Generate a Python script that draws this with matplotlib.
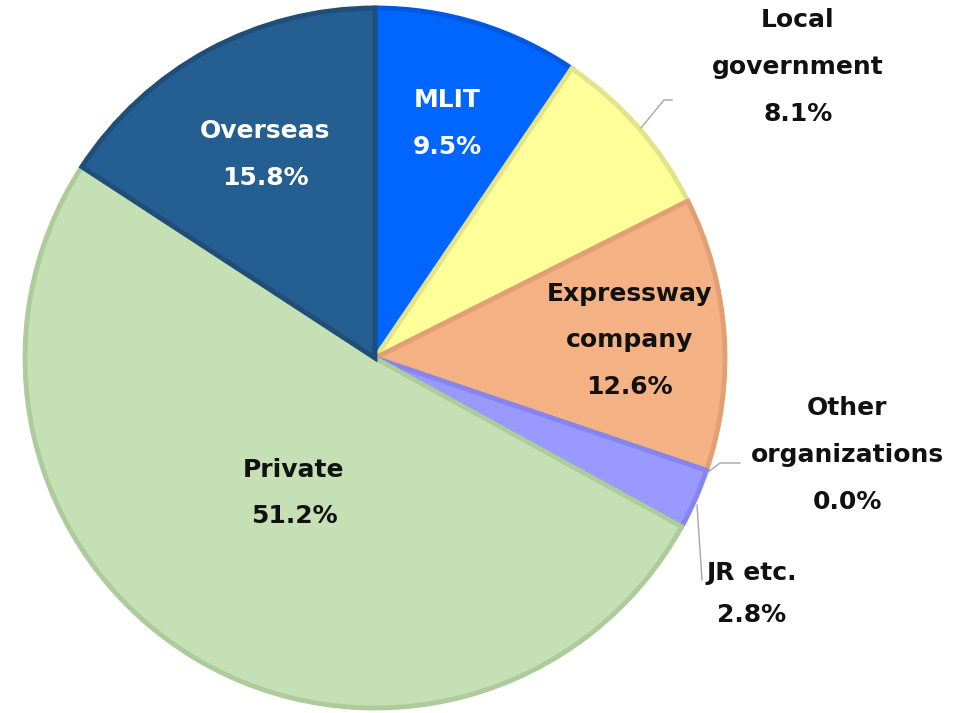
import numpy as np
import matplotlib.pyplot as plt

# 割合データ (%)
labels = ["MLIT", "Local\ngovernment", "Expressway\ncompany", "Other\norganizations",
          "JR etc.", "Private", "Overseas"]
shares = [9.5, 8.1, 12.6, 0.0, 2.8, 51.2, 15.8]

face_colors = ["#0066FF", "#FFFF99", "#F4B183", "#9999FF", "#9999FF", "#C5E0B4", "#255E91"]
edge_colors = ["#0058E0", "#E3E38A", "#E0A073", "#8585F0", "#8585F0", "#ADCB9B", "#1F4E79"]
text_colors = ["white", "#111111", "#111111", "#111111", "#111111", "#111111", "white"]

H = 713
cx, cy, R = 375, H - 358, 350

fig = plt.figure(figsize=(9.64, 7.13), dpi=100)
ax = fig.add_axes([0, 0, 1, 1])

wedges, _ = ax.pie(shares, center=(cx, cy), radius=R, startangle=90,
                   counterclock=False, colors=face_colors,
                   wedgeprops=dict(linewidth=3.5))
for w, ec, v in zip(wedges, edge_colors, shares):
    if v == 0:
        w.set_linewidth(0)
    else:
        w.set_edgecolor(ec)

ax.set_xlim(0, 964)
ax.set_ylim(0, H)
ax.set_aspect("equal")
ax.axis("off")

font = dict(fontsize=18, fontweight="bold", family="DejaVu Sans",
            ha="center", va="center", linespacing=2.2)

# 内側ラベル: 扇形の中央角から配置
inside = {0: 0.70, 2: 0.73, 5: 0.45, 6: 0.66}
for i, f in inside.items():
    w = wedges[i]
    mid = np.deg2rad((w.theta1 + w.theta2) / 2)
    x = cx + f * R * np.cos(mid)
    y = cy + f * R * np.sin(mid)
    ax.text(x, y, f"{labels[i]}\n{shares[i]:.1f}%", color=text_colors[i], **font)

# 外側ラベル (引出線付き)
outside = {
    1: ((798, 67), [(641, 128), (664, 100), (672, 100)]),
    3: ((847, 455), [(707, 473), (720, 463), (740, 463)]),
    4: ((752, 594), [(697, 505), (702, 580)]),
}
for i, ((tx, ty), pts) in outside.items():
    xs = [p[0] for p in pts]
    ys = [H - p[1] for p in pts]
    ax.plot(xs, ys, color="#A6A6A6", lw=1)
    ls = 1.9 if i == 4 else 2.2
    ax.text(tx, H - ty, f"{labels[i]}\n{shares[i]:.1f}%", color=text_colors[i],
            **{**font, "linespacing": ls})

plt.savefig("out.png", dpi=100)
